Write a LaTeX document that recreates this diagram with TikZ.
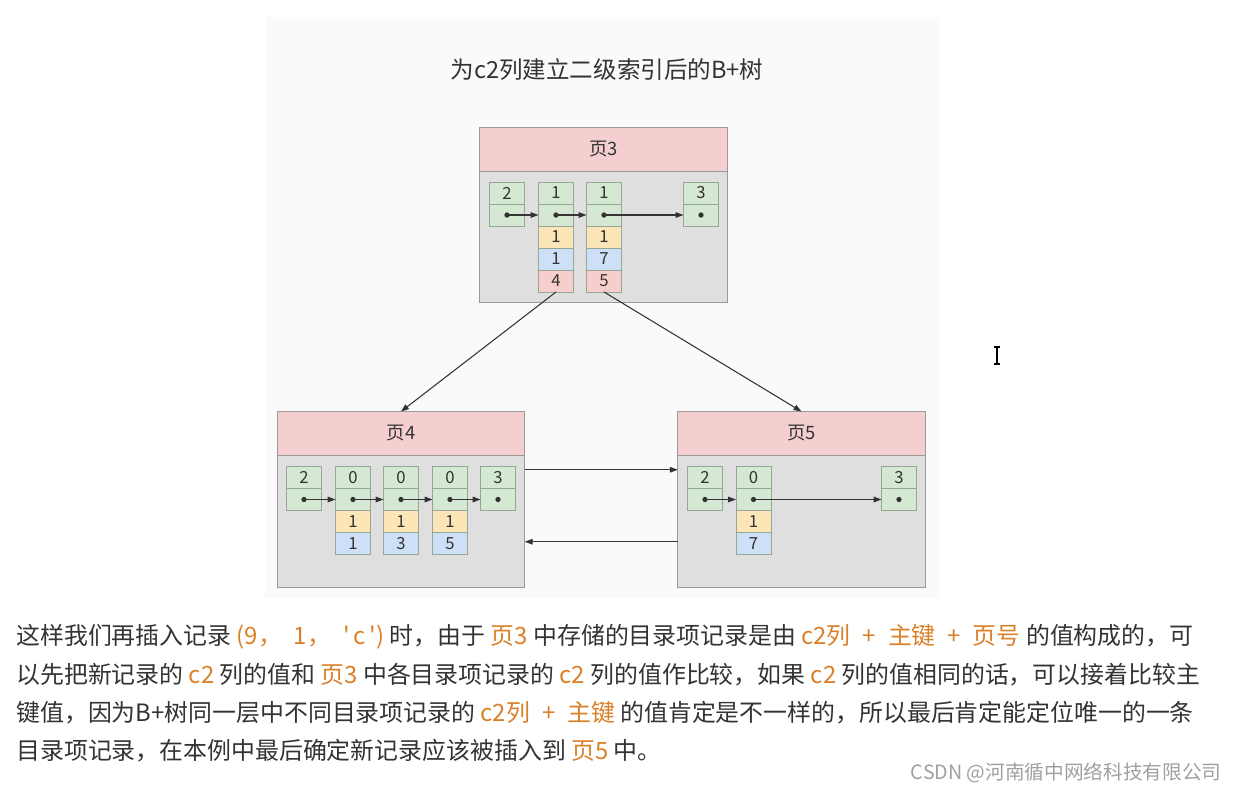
\documentclass[tikz,border=0pt]{standalone}
\usepackage{fontspec}
\setmainfont{Noto Sans CJK SC}[Ligatures=TeXOff]
\usetikzlibrary{positioning,arrows.meta}

\definecolor{txtgray}{HTML}{333333}
\definecolor{panelbg}{HTML}{FAFAFA}
\definecolor{headpink}{HTML}{F5CFCF}
\definecolor{bodygray}{HTML}{DFDFDF}
\definecolor{pageline}{HTML}{9A9A9A}
\definecolor{cellgreen}{HTML}{D5E8D4}
\definecolor{cellyellow}{HTML}{FCE5B6}
\definecolor{cellblue}{HTML}{CDE0F7}
\definecolor{cellred}{HTML}{F8CECC}
\definecolor{cellline}{HTML}{96A893}
\definecolor{codeorange}{HTML}{DA8029}
\definecolor{markgray}{HTML}{A0A0A0}

\newcommand{\hl}[1]{{\color{codeorange}#1}}
\newcommand{\plusgap}{\enspace{}+\enspace{}}

\begin{document}
\begin{tikzpicture}[x=0.02cm,y=-0.02cm,
  pagehead/.style={draw=pageline,fill=headpink,minimum width=4.95cm,minimum height=0.88cm,
    inner sep=0pt,outer sep=0pt,font=\fontsize{10.5}{12}\selectfont,text=txtgray},
  pagebody/.style={draw=pageline,fill=bodygray,minimum width=4.95cm,minimum height=2.63cm,
    inner sep=0pt,outer sep=0pt},
  cell/.style={draw=cellline,minimum width=0.7cm,minimum height=0.44cm,inner sep=0pt,
    outer sep=0pt,font=\fontsize{9.5}{10}\selectfont,text=txtgray},
  keycell/.style={cell,fill=cellgreen},
  yelcell/.style={cell,fill=cellyellow},
  bluecell/.style={cell,fill=cellblue},
  redcell/.style={cell,fill=cellred},
  ptr/.style={draw=txtgray,line width=0.6pt,-{Triangle[length=4.5pt,width=3.2pt]}},
  para/.style={anchor=west,inner sep=0pt,text=txtgray,font=\fontsize{13.6}{15}\selectfont}]
  \useasboundingbox (0,0) rectangle (1236,792);
  \fill[panelbg] (265,17) rectangle (940,598);

  \node[text=txtgray,font=\fontsize{13.4}{15}\selectfont] (title) at (607,70) {为c2列建立二级索引后的B+树};

  % pages
  \node[pagehead] (p3h) at (603.5,149) {页3};
  \node[pagebody,below=0pt of p3h] (p3b) {};
  \node[pagehead] (p4h) at (401,433.5) {页4};
  \node[pagebody,below=0pt of p4h] (p4b) {};
  \node[pagehead] (p5h) at (801.5,433.5) {页5};
  \node[pagebody,below=0pt of p5h] (p5b) {};

  % page 3 records
  \foreach \i/\x/\k in {1/507/2,2/556/1,3/604/1,4/701/3} {
    \node[keycell] (p3k\i) at (\x,193) {\k};
    \node[keycell,below=0pt of p3k\i] (p3p\i) {};
    \fill[txtgray] (p3p\i.center) circle (1.5pt);
  }
  \foreach \i/\a/\b/\c in {2/1/1/4,3/1/7/5} {
    \node[yelcell,below=0pt of p3p\i] (p3y\i) {\a};
    \node[bluecell,below=0pt of p3y\i] (p3u\i) {\b};
    \node[redcell,below=0pt of p3u\i] (p3r\i) {\c};
  }
  \foreach \i/\j in {1/2,2/3,3/4}
    \draw[ptr] (p3p\i.center) -- (p3p\j.west);

  % page 4 records
  \foreach \i/\x/\k in {1/304/2,2/353/0,3/401/0,4/450/0,5/498/3} {
    \node[keycell] (p4k\i) at (\x,477.5) {\k};
    \node[keycell,below=0pt of p4k\i] (p4p\i) {};
    \fill[txtgray] (p4p\i.center) circle (1.5pt);
  }
  \foreach \i/\a/\b in {2/1/1,3/1/3,4/1/5} {
    \node[yelcell,below=0pt of p4p\i] (p4y\i) {\a};
    \node[bluecell,below=0pt of p4y\i] (p4u\i) {\b};
  }
  \foreach \i/\j in {1/2,2/3,3/4,4/5}
    \draw[ptr] (p4p\i.center) -- (p4p\j.west);

  % page 5 records
  \foreach \i/\x/\k in {1/705/2,2/753.5/0,3/899/3} {
    \node[keycell] (p5k\i) at (\x,477.5) {\k};
    \node[keycell,below=0pt of p5k\i] (p5p\i) {};
    \fill[txtgray] (p5p\i.center) circle (1.5pt);
  }
  \node[yelcell,below=0pt of p5p2] (p5y2) {1};
  \node[bluecell,below=0pt of p5y2] (p5u2) {7};
  \foreach \i/\j in {1/2,2/3}
    \draw[ptr] (p5p\i.center) -- (p5p\j.west);

  % tree links
  \draw[ptr] (p3r2.south) -- (p4h.north);
  \draw[ptr] (p3r3.south) -- (p5h.north);
  \draw[ptr] ([yshift=1.03cm]p4b.east) -- ([yshift=1.03cm]p5b.west);
  \draw[ptr] ([yshift=-0.41cm]p5b.west) -- ([yshift=-0.41cm]p4b.east);

  % cursor
  \draw[line width=0.9pt] (997,347) -- (997,364);
  \draw[line width=0.6pt] (994,347) -- (1000,347) (994,364) -- (1000,364);

  % text below
  \node[para] (l1) at (16,637) {这样我们再插入记录 \hl{(9，\enspace1，\enspace'\,c\,')} 时，由于 \hl{页3} 中存储的目录项记录是由 \hl{c2列\plusgap 主键\plusgap 页号} 的值构成的，可};
  \node[para] (l2) at (16,675) {以先把新记录的 \hl{c2} 列的值和 \hl{页3} 中各目录项记录的 \hl{c2} 列的值作比较，如果 \hl{c2} 列的值相同的话，可以接着比较主};
  \node[para] (l3) at (16,713) {键值，因为B+树同一层中不同目录项记录的 \hl{c2列\plusgap 主键} 的值肯定是不一样的，所以最后肯定能定位唯一的一条};
  \node[para] (l4) at (16,751) {目录项记录，在本例中最后确定新记录应该被插入到 \hl{页5} 中。};
  \node[anchor=east,inner sep=0pt,text=markgray,font=\fontsize{11.2}{13}\selectfont] (mark) at (1222,773) {CSDN @河南循中网络科技有限公司};
\end{tikzpicture}
\end{document}
